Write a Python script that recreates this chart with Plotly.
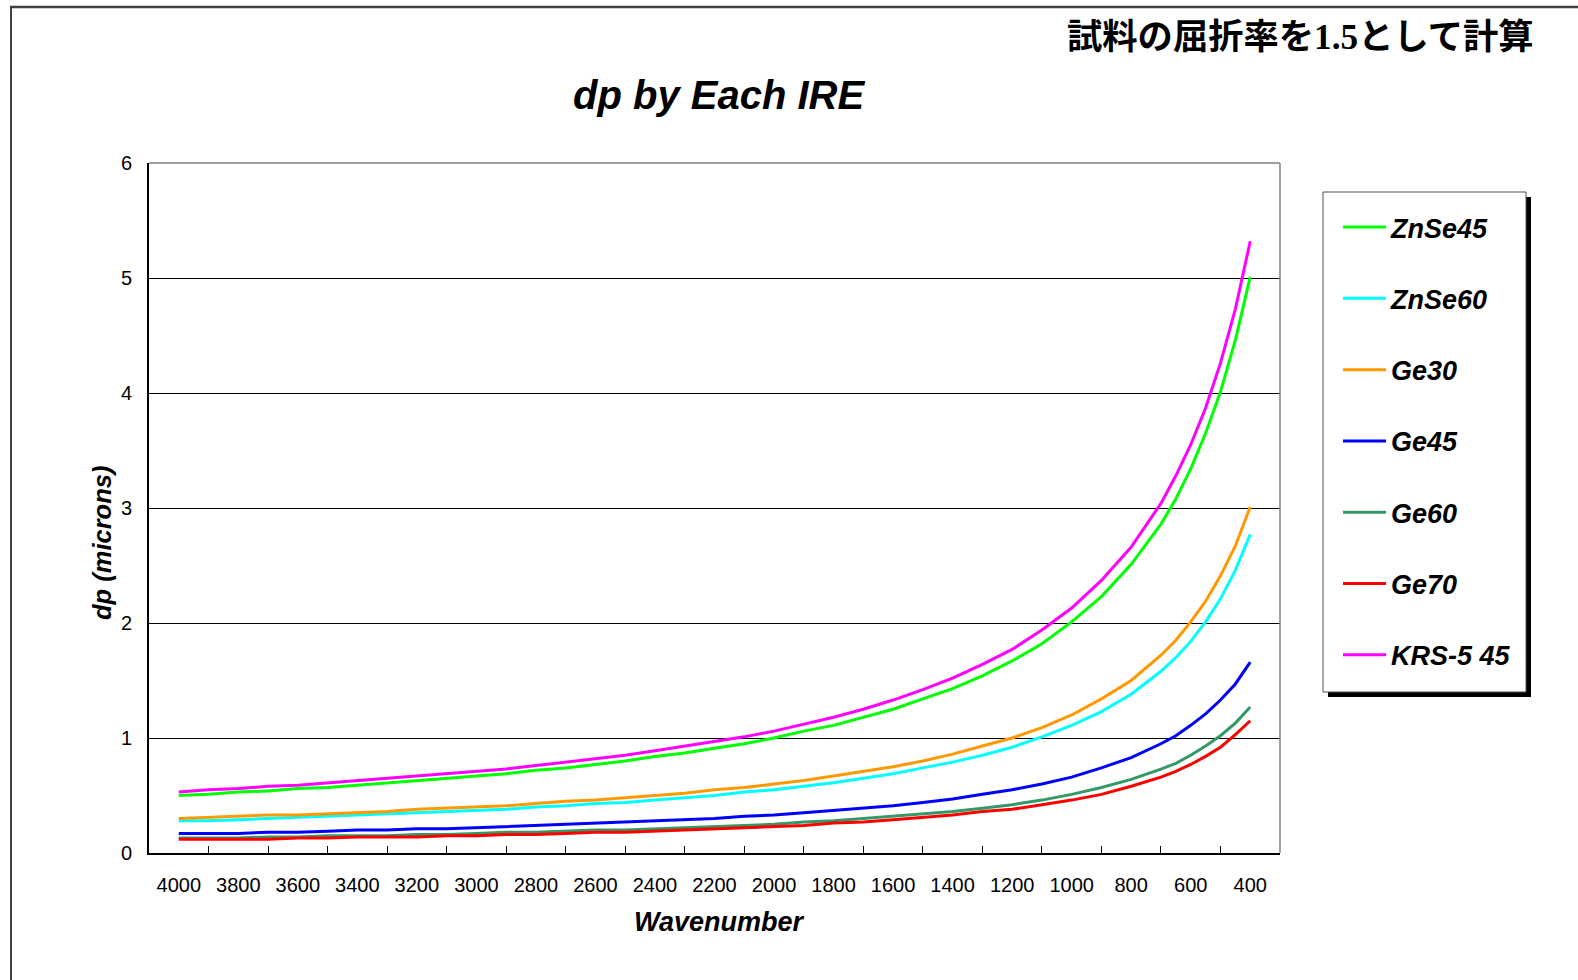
import plotly.graph_objects as go

# Wavenumber (cm^-1) at which each penetration depth was sampled
wavenumber = [4000, 3900, 3800, 3700, 3600, 3500, 3400, 3300, 3200, 3100,
              3000, 2900, 2800, 2700, 2600, 2500, 2400, 2300, 2200, 2100,
              2000, 1900, 1800, 1700, 1600, 1500, 1400, 1300, 1200, 1100,
              1000, 900, 800, 700, 650, 600, 550, 500, 450, 400]

# Penetration depth dp (microns) for each IRE crystal / incidence angle
znse45 = [0.50, 0.51, 0.53, 0.54, 0.56, 0.57, 0.59, 0.61, 0.63, 0.65,
          0.67, 0.69, 0.72, 0.74, 0.77, 0.80, 0.84, 0.87, 0.91, 0.95,
          1.00, 1.06, 1.11, 1.18, 1.25, 1.34, 1.43, 1.54, 1.67, 1.82,
          2.01, 2.23, 2.51, 2.86, 3.08, 3.34, 3.65, 4.01, 4.46, 5.01]
znse60 = [0.28, 0.28, 0.29, 0.30, 0.31, 0.32, 0.33, 0.34, 0.35, 0.36,
          0.37, 0.38, 0.40, 0.41, 0.43, 0.44, 0.46, 0.48, 0.50, 0.53,
          0.55, 0.58, 0.61, 0.65, 0.69, 0.74, 0.79, 0.85, 0.92, 1.01,
          1.11, 1.23, 1.38, 1.58, 1.70, 1.84, 2.01, 2.21, 2.46, 2.77]
ge30 = [0.30, 0.31, 0.32, 0.33, 0.33, 0.34, 0.35, 0.36, 0.38, 0.39,
        0.40, 0.41, 0.43, 0.45, 0.46, 0.48, 0.50, 0.52, 0.55, 0.57,
        0.60, 0.63, 0.67, 0.71, 0.75, 0.80, 0.86, 0.93, 1.00, 1.09,
        1.20, 1.34, 1.50, 1.72, 1.85, 2.01, 2.19, 2.41, 2.67, 3.01]
ge45 = [0.17, 0.17, 0.17, 0.18, 0.18, 0.19, 0.20, 0.20, 0.21, 0.21,
        0.22, 0.23, 0.24, 0.25, 0.26, 0.27, 0.28, 0.29, 0.30, 0.32,
        0.33, 0.35, 0.37, 0.39, 0.41, 0.44, 0.47, 0.51, 0.55, 0.60,
        0.66, 0.74, 0.83, 0.95, 1.02, 1.11, 1.21, 1.33, 1.47, 1.66]
ge60 = [0.13, 0.13, 0.13, 0.14, 0.14, 0.15, 0.15, 0.15, 0.16, 0.16,
        0.17, 0.18, 0.18, 0.19, 0.20, 0.20, 0.21, 0.22, 0.23, 0.24,
        0.25, 0.27, 0.28, 0.30, 0.32, 0.34, 0.36, 0.39, 0.42, 0.46,
        0.51, 0.57, 0.64, 0.73, 0.78, 0.85, 0.93, 1.02, 1.13, 1.27]
ge70 = [0.12, 0.12, 0.12, 0.12, 0.13, 0.13, 0.14, 0.14, 0.14, 0.15,
        0.15, 0.16, 0.16, 0.17, 0.18, 0.18, 0.19, 0.20, 0.21, 0.22,
        0.23, 0.24, 0.26, 0.27, 0.29, 0.31, 0.33, 0.36, 0.38, 0.42,
        0.46, 0.51, 0.58, 0.66, 0.71, 0.77, 0.84, 0.92, 1.03, 1.15]
krs5_45 = [0.53, 0.55, 0.56, 0.58, 0.59, 0.61, 0.63, 0.65, 0.67, 0.69,
           0.71, 0.73, 0.76, 0.79, 0.82, 0.85, 0.89, 0.93, 0.97, 1.01,
           1.06, 1.12, 1.18, 1.25, 1.33, 1.42, 1.52, 1.64, 1.77, 1.94,
           2.13, 2.37, 2.66, 3.04, 3.28, 3.55, 3.87, 4.26, 4.73, 5.32]

series_names = ["ZnSe45", "ZnSe60", "Ge30", "Ge45", "Ge60", "Ge70", "KRS-5 45"]
series_values = [znse45, znse60, ge30, ge45, ge60, ge70, krs5_45]
series_colors = ["#00FF00", "#00FFFF", "#FF9900", "#0000FF", "#339966", "#FF0000", "#FF00FF"]

# x-axis labels every 200, tick marks half-way between them
label_vals = list(range(4000, 399, -200))
label_text = [str(v) for v in label_vals]
tick_vals = list(range(3900, 499, -200))

W, H = 1578, 980
PL, PR, PT, PB = 149, 1280, 163, 853  # plot area in pixels


def xp(px):
    return (px - PL) / (PR - PL)


def yp(py):
    return (PB - py) / (PB - PT)


SANS = "Liberation Sans, Arial, sans-serif"

fig = go.Figure()
for name, vals, col in zip(series_names, series_values, series_colors):
    fig.add_trace(go.Scatter(
        x=wavenumber, y=vals, name=name, mode="lines",
        line=dict(color=col, width=3), legendgroup=name,
    ))

shapes = [
    # outer frame (top and left edges)
    dict(type="line", xref="paper", yref="paper", x0=xp(10), x1=xp(1578), y0=yp(7), y1=yp(7),
         line=dict(color="#404040", width=2.5)),
    dict(type="line", xref="paper", yref="paper", x0=xp(11), x1=xp(11), y0=yp(7), y1=yp(980),
         line=dict(color="#404040", width=2)),
    # plot-area top and right borders
    dict(type="line", xref="paper", yref="paper", x0=0, x1=1, y0=1, y1=1,
         line=dict(color="#808080", width=1.5)),
    dict(type="line", xref="paper", yref="paper", x0=1, x1=1, y0=0, y1=1,
         line=dict(color="#808080", width=1.5)),
    # legend box with drop shadow
    dict(type="rect", xref="paper", yref="paper", x0=xp(1328), x1=xp(1531), y0=yp(697), y1=yp(197),
         fillcolor="black", line=dict(width=0)),
    dict(type="rect", xref="paper", yref="paper", x0=xp(1323), x1=xp(1526), y0=yp(692), y1=yp(192),
         fillcolor="white", line=dict(color="#505050", width=1)),
]

annotations = [
    dict(text="<b><i>dp by Each IRE</i></b>", xref="paper", yref="paper",
         x=xp(719), y=yp(95), xanchor="center", yanchor="middle", showarrow=False,
         font=dict(family=SANS, size=40, color="black")),
    dict(text="<b>試料の屈折率を<span style='font-family:Liberation Serif'>1.5</span>として計算</b>",
         xref="paper", yref="paper", x=xp(1536), y=yp(33), xanchor="right", yanchor="middle",
         showarrow=False, font=dict(family="Noto Sans CJK JP", size=35.3, color="black")),
    dict(text="<b><i>Wavenumber</i></b>", xref="paper", yref="paper",
         x=xp(719), y=yp(922), xanchor="center", yanchor="middle", showarrow=False,
         font=dict(family=SANS, size=27, color="black")),
    dict(text="<b><i>dp (microns)</i></b>", xref="paper", yref="paper",
         x=xp(102), y=yp(543), xanchor="center", yanchor="middle", showarrow=False,
         textangle=-90, font=dict(family=SANS, size=25.5, color="black")),
]

fig.update_layout(
    width=W, height=H,
    margin=dict(l=PL, r=W - PR, t=PT, b=H - PB, pad=0),
    paper_bgcolor="white", plot_bgcolor="white",
    showlegend=True,
    legend=dict(
        x=xp(1338), y=yp(203), xanchor="left", yanchor="top",
        bgcolor="rgba(0,0,0,0)", borderwidth=0,
        font=dict(family=SANS, size=27, color="black", style="italic", weight="bold"),
        traceorder="grouped", tracegroupgap=33.2, itemwidth=43,
    ),
    shapes=shapes,
    annotations=annotations,
    xaxis=dict(
        range=[4100, 300], tickmode="array", tickvals=label_vals, ticktext=label_text,
        ticks="", showgrid=False, zeroline=False,
        showline=True, linecolor="black", linewidth=2,
        tickfont=dict(family=SANS, size=20, color="black"),
        ticklabelstandoff=13,
        minor=dict(tickmode="array", tickvals=tick_vals, ticks="inside", ticklen=7,
                   tickcolor="black", tickwidth=1, showgrid=False),
    ),
    yaxis=dict(
        range=[0, 6], tickmode="linear", tick0=0, dtick=1,
        ticks="inside", ticklen=7, tickcolor="black", tickwidth=1,
        showgrid=True, gridcolor="black", gridwidth=1, zeroline=False,
        showline=True, linecolor="black", linewidth=2,
        tickfont=dict(family=SANS, size=20, color="black"),
        ticklabelstandoff=11,
    ),
)

fig.write_html("out.html")
